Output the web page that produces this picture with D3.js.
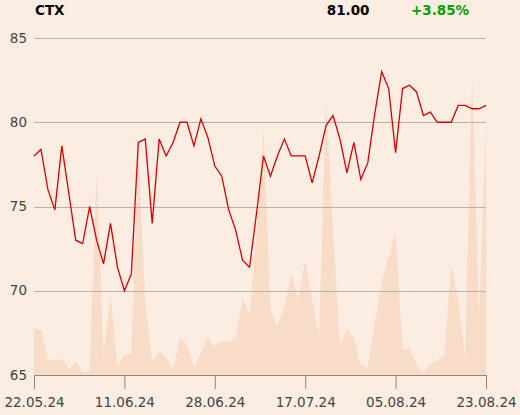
<!DOCTYPE html>
<html>
<head>
<meta charset="utf-8">
<script src="https://cdn.jsdelivr.net/npm/d3@7"></script>
<style>
  body { margin: 0; background: #fbede1; }
  svg { display: block; font-family: "DejaVu Sans", sans-serif; }
</style>
</head>
<body>
<svg id="chart" width="520" height="415"></svg>
<script>
// closing prices, one per trading day (22.05.24 - 23.08.24)
var closes = [
  78.0, 78.4, 76.0, 74.8, 78.6, 75.8, 73.0, 72.8, 75.0, 73.0,
  71.6, 74.0, 71.4, 70.0, 71.0, 78.8, 79.0, 74.0, 79.0, 78.0,
  78.8, 80.0, 80.0, 78.6, 80.2, 79.1, 77.4, 76.8, 74.8, 73.6,
  71.8, 71.4, 74.6, 78.0, 76.8, 78.0, 79.0, 78.0, 78.0, 78.0,
  76.4, 78.0, 79.8, 80.4, 79.0, 77.0, 78.8, 76.6, 77.6, 80.5,
  83.0, 82.0, 78.2, 82.0, 82.2, 81.8, 80.4, 80.6, 80.0, 80.0,
  80.0, 81.0, 81.0, 80.8, 80.8, 81.0
];

// traded volume per day
var volumes = [
  4670, 4500, 1500, 1500, 1600, 500, 1400, 300, 400, 20200,
  2000, 8100, 700, 2100, 2100, 22800, 7000, 1300, 2400, 1800,
  600, 3700, 3000, 700, 2200, 3800, 2800, 3400, 3300, 3800,
  7700, 6000, 14000, 24700, 6500, 4800, 6800, 10100, 7600, 11400,
  7600, 3700, 27400, 14500, 2700, 4700, 3700, 1000, 700, 5200,
  9300, 11800, 14200, 2600, 2600, 1000, 200, 1100, 1500, 1900,
  11100, 7500, 1800, 30300, 5800, 24900
];

var tickIndex = [0, 13, 26, 39, 52, 65];
var tickLabels = ["22.05.24", "11.06.24", "28.06.24", "17.07.24", "05.08.24", "23.08.24"];
var yTicks = [65, 70, 75, 80, 85];

var ticker = "CTX",
    lastPrice = "81.00",
    change = "+3.85%";

var svg = d3.select("#chart");

var plotLeft = 34, plotRight = 486, plotTop = 38, plotBottom = 375;

var x = d3.scaleLinear()
    .domain([0, closes.length - 1])
    .range([plotLeft, plotRight]);

var y = d3.scaleLinear()
    .domain([65, 85])
    .range([plotBottom, plotTop]);

var yVol = d3.scaleLinear()
    .domain([0, 33700])
    .range([plotBottom, plotTop]);

// volume area in the background
var area = d3.area()
    .x(function (d, i) { return x(i); })
    .y0(plotBottom)
    .y1(function (d) { return yVol(d); });

svg.append("path")
    .datum(volumes)
    .attr("fill", "#f8dcc7")
    .attr("d", area);

// horizontal grid
svg.append("g")
    .selectAll("line")
    .data(yTicks.filter(function (d) { return d > 65; }))
    .enter().append("line")
    .attr("x1", plotLeft)
    .attr("x2", plotRight)
    .attr("y1", function (d) { return Math.round(y(d)) + 0.5; })
    .attr("y2", function (d) { return Math.round(y(d)) + 0.5; })
    .attr("stroke", "#b6b1ab")
    .attr("stroke-width", 1);

// y axis labels
svg.append("g")
    .selectAll("text")
    .data(yTicks)
    .enter().append("text")
    .attr("x", 27)
    .attr("y", function (d) { return y(d); })
    .attr("dy", "0.35em")
    .attr("text-anchor", "end")
    .attr("font-size", 13.5)
    .attr("fill", "#444")
    .text(function (d) { return d; });

// x axis
var xAxis = d3.axisBottom(x)
    .tickValues(tickIndex)
    .tickFormat(function (d, i) { return tickLabels[i]; })
    .tickSize(14)
    .tickSizeOuter(0);

var gx = svg.append("g")
    .attr("transform", "translate(0," + plotBottom + ")")
    .call(xAxis);

gx.select(".domain").attr("stroke", "#8c8782");
gx.selectAll(".tick line").attr("stroke", "#8c8782");
gx.selectAll(".tick text")
    .attr("font-family", "DejaVu Sans, sans-serif")
    .attr("font-size", 13.5)
    .attr("fill", "#444")
    .attr("y", 22);

// price line
var line = d3.line()
    .x(function (d, i) { return x(i); })
    .y(function (d) { return y(d); });

svg.append("path")
    .datum(closes)
    .attr("fill", "none")
    .attr("stroke", "#d40000")
    .attr("stroke-width", 1.3)
    .attr("d", line);

// header
svg.append("text")
    .attr("x", 35)
    .attr("y", 15)
    .attr("font-size", 13.5)
    .attr("font-weight", "bold")
    .attr("fill", "#000")
    .text(ticker);

svg.append("text")
    .attr("x", 369.5)
    .attr("y", 15)
    .attr("text-anchor", "end")
    .attr("font-size", 13.5)
    .attr("font-weight", "bold")
    .attr("fill", "#000")
    .text(lastPrice);

svg.append("text")
    .attr("x", 411)
    .attr("y", 15)
    .attr("font-size", 13.5)
    .attr("font-weight", "bold")
    .attr("fill", "#00a000")
    .text(change);
</script>
</body>
</html>
